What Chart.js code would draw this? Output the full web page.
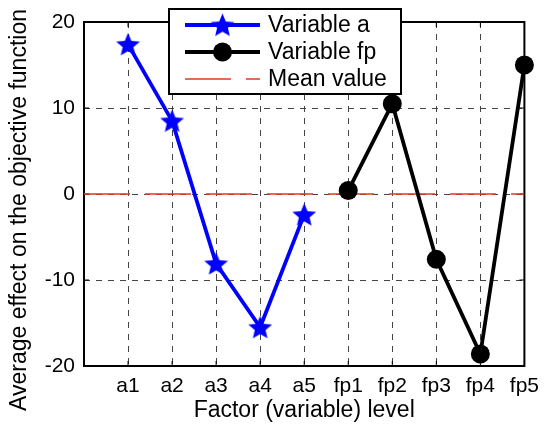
<!DOCTYPE html>
<html>
<head>
<meta charset="utf-8">
<style>
  html, body { margin: 0; padding: 0; background: #fff; }
  #wrap { width: 547px; height: 428px; position: relative; }
</style>
<script src="https://cdn.jsdelivr.net/npm/chart.js@4.4.1/dist/chart.umd.min.js"></script>
</head>
<body>
<div id="wrap"><canvas id="effectChart"></canvas></div>
<script>
// factor levels along the x axis
const levelLabels = ['a1', 'a2', 'a3', 'a4', 'a5', 'fp1', 'fp2', 'fp3', 'fp4', 'fp5'];
// average effect values
const variableA = [17.4, 8.5, -8.1, -15.5, -2.4];
const variableFp = [0.4, 10.5, -7.6, -18.6, 15.0];
const meanValue = 0;
const yTicks = [-20, -10, 0, 10, 20];
const xMin = 0;
const xMax = levelLabels.length;

const FONT = "'Liberation Sans', Arial, Helvetica, sans-serif";
const Y_TITLE = 'Average effect on the objective function';

const posOf = label => levelLabels.indexOf(label) + 1;
const aPoints = variableA.map((v, i) => ({ x: posOf('a' + (i + 1)), y: v }));
const fpPoints = variableFp.map((v, i) => ({ x: posOf('fp' + (i + 1)), y: v }));
const meanPoints = [{ x: xMin, y: meanValue }, { x: xMax, y: meanValue }];

// filled pentagram marker (matlab style)
function makeStar(r, color) {
    const size = Math.ceil(r * 2 + 2);
    const c = document.createElement('canvas');
    c.width = size;
    c.height = size;
    const g = c.getContext('2d');
    const cx = size / 2, cy = size / 2 + r * 0.08;
    g.beginPath();
    for (let i = 0; i < 10; i++) {
        const rad = i % 2 === 0 ? r : r * 0.45;
        const ang = -Math.PI / 2 + i * Math.PI / 5;
        const px = cx + rad * Math.cos(ang);
        const py = cy + rad * Math.sin(ang);
        if (i === 0) g.moveTo(px, py);
        else g.lineTo(px, py);
    }
    g.closePath();
    g.fillStyle = color;
    g.fill();
    return c;
}
const starImg = makeStar(12.5, '#0000ff');

// box around the axes plus inward tick marks, y title centred on the figure
const axesFrame = {
    id: 'axesFrame',
    beforeDatasetsDraw(chart) {
        const { ctx, chartArea: a, scales: { x, y } } = chart;
        ctx.save();
        ctx.strokeStyle = '#000';
        ctx.lineWidth = 1;
        ctx.beginPath();
        x.ticks.forEach(t => {
            const px = x.getPixelForValue(t.value);
            ctx.moveTo(px, a.bottom); ctx.lineTo(px, a.bottom - 5);
            ctx.moveTo(px, a.top); ctx.lineTo(px, a.top + 5);
        });
        y.ticks.forEach(t => {
            const py = y.getPixelForValue(t.value);
            ctx.moveTo(a.left, py); ctx.lineTo(a.left + 5, py);
            ctx.moveTo(a.right, py); ctx.lineTo(a.right - 5, py);
        });
        ctx.stroke();
        ctx.lineWidth = 2;
        ctx.strokeRect(a.left, a.top, a.right - a.left, a.bottom - a.top);

        ctx.translate(20, chart.height / 2 - 4);
        ctx.rotate(-Math.PI / 2);
        ctx.fillStyle = '#000';
        ctx.font = '23px ' + FONT;
        ctx.textAlign = 'center';
        ctx.textBaseline = 'middle';
        ctx.fillText(Y_TITLE, 0, 0);
        ctx.restore();
    }
};

// legend box placed over the top of the plot, like the matlab one
const boxLegend = {
    id: 'boxLegend',
    afterDraw(chart) {
        const ctx = chart.ctx;
        const box = { left: 169, top: 9, right: 401, bottom: 94 };
        const rowH = 27;
        const lineX0 = 185, lineX1 = 260, textX = 268;
        ctx.save();
        ctx.fillStyle = '#fff';
        ctx.fillRect(box.left, box.top, box.right - box.left, box.bottom - box.top);
        ctx.strokeStyle = '#000';
        ctx.lineWidth = 2;
        ctx.strokeRect(box.left, box.top, box.right - box.left, box.bottom - box.top);

        chart.data.datasets.forEach((ds, i) => {
            const cy = box.top + 16 + i * rowH;
            const mx = (lineX0 + lineX1) / 2;
            ctx.save();
            ctx.strokeStyle = ds.borderColor;
            ctx.lineWidth = ds.borderWidth;
            ctx.setLineDash(ds.borderDash || []);
            ctx.beginPath();
            ctx.moveTo(lineX0, cy);
            ctx.lineTo(lineX1, cy);
            ctx.stroke();
            ctx.restore();
            if (ds.pointRadius > 0) {
                if (ds.pointStyle === 'circle') {
                    ctx.fillStyle = ds.pointBackgroundColor;
                    ctx.beginPath();
                    ctx.arc(mx, cy, ds.pointRadius, 0, Math.PI * 2);
                    ctx.fill();
                } else {
                    const img = ds.pointStyle;
                    ctx.drawImage(img, mx - img.width / 2, cy - img.height / 2);
                }
            }
            ctx.fillStyle = '#000';
            ctx.font = '23px ' + FONT;
            ctx.textBaseline = 'middle';
            ctx.textAlign = 'left';
            ctx.fillText(ds.label, textX, cy + 1);
        });
        ctx.restore();
    }
};

const ctx = document.getElementById('effectChart').getContext('2d');
new Chart(ctx, {
    type: 'line',
    data: {
        datasets: [{
            label: 'Variable a',
            data: aPoints,
            borderColor: '#0000ff',
            borderWidth: 3.8,
            pointStyle: starImg,
            pointRadius: 12,
            pointHoverRadius: 12,
            pointBackgroundColor: '#0000ff',
            tension: 0,
            clip: false
        }, {
            label: 'Variable fp',
            data: fpPoints,
            borderColor: '#000000',
            borderWidth: 3.8,
            pointStyle: 'circle',
            pointRadius: 9.5,
            pointHoverRadius: 9.5,
            pointBorderWidth: 0,
            pointBackgroundColor: '#000000',
            tension: 0,
            clip: false
        }, {
            label: 'Mean value',
            data: meanPoints,
            borderColor: '#e2381a',
            borderWidth: 1.5,
            borderDash: [46, 15],
            pointRadius: 0,
            tension: 0
        }]
    },
    options: {
        responsive: true,
        maintainAspectRatio: false,
        animation: false,
        layout: { padding: { top: 22, right: 18, left: 0, bottom: 0 } },
        plugins: {
            legend: { display: false },
            tooltip: { enabled: false }
        },
        scales: {
            x: {
                type: 'linear',
                min: xMin,
                max: xMax,
                afterBuildTicks: scale => {
                    scale.ticks = levelLabels.map((_, i) => ({ value: i + 1 }));
                },
                afterFit: scale => { scale.height = 62; },
                ticks: {
                    autoSkip: false,
                    maxRotation: 0,
                    padding: 8,
                    color: '#000',
                    font: { family: FONT, size: 21 },
                    callback: v => levelLabels[v - 1]
                },
                grid: { color: '#444', lineWidth: 1, drawTicks: false },
                border: { display: false, dash: [6, 6] },
                title: {
                    display: true,
                    text: 'Factor (variable) level',
                    color: '#000',
                    font: { family: FONT, size: 23 },
                    padding: { top: 0, bottom: 4 }
                }
            },
            y: {
                min: yTicks[0],
                max: yTicks[yTicks.length - 1],
                afterBuildTicks: scale => {
                    scale.ticks = yTicks.map(v => ({ value: v }));
                },
                afterFit: scale => { scale.width = 84; },
                ticks: {
                    padding: 9,
                    color: '#000',
                    font: { family: FONT, size: 21 }
                },
                grid: { color: '#444', lineWidth: 1, drawTicks: false },
                border: { display: false, dash: [6, 6] }
            }
        }
    },
    plugins: [axesFrame, boxLegend]
});
</script>
</body>
</html>
